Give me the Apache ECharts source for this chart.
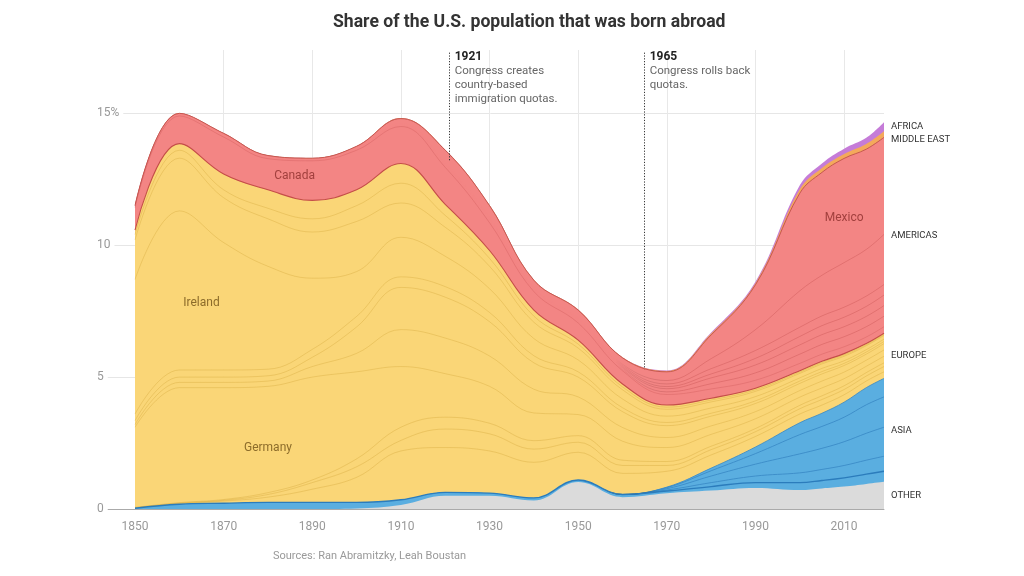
<!DOCTYPE html>
<html>
<head>
<meta charset="utf-8">
<script src="https://cdn.jsdelivr.net/npm/echarts@6/dist/echarts.min.js"></script>
<style>
html,body{margin:0;padding:0;background:#fff;}
#chart{width:1024px;height:576px;}
</style>
</head>
<body>
<div id="chart"></div>
<script>
// ---------- DATA (share of U.S. population, %) ----------
const years = [1850,1860,1870,1880,1890,1900,1910,1920,1930,1940,1950,1960,1970,1980,1990,2000,2005,2010,2015,2019];
const xTicks = [1850,1870,1890,1910,1930,1950,1970,1990,2010];
const yTicks = [0,5,10,15];

// OTHER
const other   = [0,0,0,0,0,0.02,0.15,0.5,0.5,0.32,1.02,0.45,0.6,0.7,0.8,0.72,0.78,0.85,0.95,1.03];
// ASIA
const asia1   = [0.03,0.18,0.22,0.25,0.25,0.23,0.2,0.13,0.1,0.1,0.08,0.1,0.08,0.15,0.2,0.28,0.3,0.33,0.37,0.4];
const asia2   = [0,0,0,0,0,0,0,0,0,0,0,0,0.04,0.15,0.25,0.37,0.42,0.47,0.53,0.57];
const asia3   = [0,0,0,0,0,0,0,0,0,0,0,0,0.05,0.25,0.45,0.72,0.8,0.9,1.02,1.1];
const asia4   = [0,0,0,0,0,0,0,0,0,0,0,0,0.04,0.2,0.4,0.73,0.83,0.93,1.08,1.15];
const asia5   = [0,0,0,0,0,0,0,0,0,0,0,0,0.02,0.1,0.25,0.45,0.5,0.57,0.65,0.7];
// EUROPE
const eur1    = [0.01,0.02,0.08,0.2,0.5,0.95,1.85,1.7,1.6,1.35,1.05,0.8,0.6,0.5,0.4,0.33,0.31,0.28,0.25,0.25];
const eur2    = [0.01,0.02,0.03,0.1,0.25,0.4,0.4,0.7,0.65,0.5,0.38,0.3,0.22,0.2,0.18,0.2,0.21,0.2,0.19,0.2];
const eur3    = [0.01,0.02,0.03,0.07,0.1,0.3,0.5,0.45,0.4,0.32,0.25,0.2,0.15,0.13,0.12,0.13,0.14,0.14,0.13,0.14];
const germany = [3.04,4.36,4.24,4.03,3.9,3.3,2.3,1.65,1.4,1.05,0.8,0.72,0.53,0.45,0.37,0.31,0.3,0.27,0.24,0.25];
const eur5    = [0.1,0.2,0.2,0.2,0.4,0.7,1.4,1.35,1.15,0.9,0.67,0.52,0.38,0.32,0.27,0.25,0.26,0.25,0.23,0.24];
const eur6    = [0.15,0.2,0.2,0.2,0.35,1.0,1.6,1.55,1.3,1.0,0.75,0.6,0.45,0.37,0.31,0.27,0.27,0.25,0.23,0.24];
const eur7    = [0.25,0.27,0.27,0.25,0.3,0.4,0.4,0.4,0.35,0.27,0.2,0.15,0.12,0.11,0.1,0.09,0.09,0.08,0.08,0.08];
const ireland = [5.1,6.03,4.83,3.9,2.7,1.7,1.5,1.15,0.9,0.65,0.45,0.33,0.24,0.2,0.16,0.12,0.12,0.1,0.09,0.09];
const britain = [1.5,2.0,1.7,1.8,1.75,1.9,1.3,1.1,0.85,0.62,0.45,0.35,0.26,0.23,0.2,0.17,0.17,0.17,0.15,0.14];
const eur10   = [0.2,0.3,0.3,0.4,0.5,0.6,0.75,0.45,0.3,0.23,0.15,0.11,0.08,0.07,0.06,0.05,0.05,0.05,0.04,0.04];
const eur11   = [0.17,0.25,0.6,0.7,0.7,0.6,0.75,0.42,0.3,0.23,0.15,0.11,0.08,0.07,0.06,0.05,0.05,0.05,0.04,0.04];
// AMERICAS
const canada  = [0.85,1.05,1.4,1.18,1.5,1.5,1.4,1.4,1.05,0.7,0.65,0.5,0.4,0.35,0.3,0.28,0.27,0.26,0.25,0.25];
const amer1   = [0.01,0.01,0.01,0.01,0.01,0.01,0.02,0.04,0.05,0.04,0.05,0.05,0.1,0.2,0.28,0.35,0.37,0.38,0.39,0.4];
const amer2   = [0.01,0.01,0.01,0.01,0.01,0.02,0.03,0.05,0.06,0.05,0.05,0.06,0.12,0.22,0.3,0.35,0.37,0.38,0.39,0.4];
const amer3   = [0.01,0.01,0.01,0.01,0.01,0.01,0.02,0.03,0.03,0.02,0.03,0.04,0.08,0.15,0.25,0.32,0.34,0.36,0.38,0.4];
const amer4   = [0.01,0.01,0.02,0.02,0.01,0.02,0.03,0.04,0.04,0.03,0.04,0.05,0.1,0.2,0.3,0.35,0.37,0.38,0.39,0.4];
const amer5   = [0.01,0.02,0.03,0.02,0.02,0.02,0.03,0.04,0.04,0.03,0.04,0.05,0.13,0.38,0.79,1.38,1.54,1.69,1.77,1.9];
const mexico  = [0.03,0.04,0.06,0.05,0.04,0.07,0.17,0.45,0.43,0.26,0.28,0.24,0.33,0.9,1.7,3.7,3.9,3.95,3.8,3.68];
// MIDDLE EAST, AFRICA
const middleEast = [0.01,0.01,0.01,0.01,0.01,0.01,0.02,0.02,0.02,0.02,0.02,0.02,0.03,0.05,0.06,0.15,0.17,0.17,0.2,0.23];
const africa     = [0,0,0,0,0,0,0,0,0,0,0,0,0.02,0.04,0.05,0.15,0.17,0.2,0.23,0.34];

// Annotations
const notes = [
  {year:1921, top:17.3, base:13.2, head:'1921', lines:['Congress creates','country-based','immigration quotas.']},
  {year:1965, top:17.3, base:5.3, head:'1965', lines:['Congress rolls back','quotas.']}
];
const countryLabels = [
  {name:'Canada', year:1886, value:12.62, color:'#a2403e'},
  {name:'Ireland', year:1865, value:7.8, color:'#8c6c2a'},
  {name:'Germany', year:1880, value:2.3, color:'#8c6c2a'},
  {name:'Mexico', year:2010, value:11.03, color:'#a2403e'}
];
const sourceText = 'Sources: Ran Abramitzky, Leah Boustan';
const titleText = 'Share of the U.S. population that was born abroad';

// ---------- STYLE ----------
const first = years[0], lastYear = years[years.length-1];
// line colour that stays invisible before `from` and fades in by `to`
function fadeIn(color, from, to){
  const o1 = (from-first)/(lastYear-first), o2 = (to-first)/(lastYear-first);
  return {type:'linear', x:0, y:0, x2:1, y2:0, colorStops:[
    {offset:0, color:'rgba(0,0,0,0)'}, {offset:o1, color:'rgba(0,0,0,0)'}, {offset:o2, color:color}, {offset:1, color:color}]};
}
const C = {
  other:{area:'#dbdbdb', line:'rgba(0,0,0,0)', w:0},
  asia:{area:'#5aaee0', line:fadeIn('#3787c4',1955,1968), w:0.8},
  europe:{area:'#fad677', line:'rgba(196,150,40,0.40)', w:0.7},
  americas:{area:'#f38584', line:fadeIn('rgba(180,60,60,0.40)',1958,1972), w:0.7},
  me:{area:'#f4a95b', line:'rgba(0,0,0,0)', w:0},
  africa:{area:'#c57cd8', line:'rgba(0,0,0,0)', w:0}
};
const layers = [
  ['Other', other, 'other'],
  ['Asia 1', asia1, 'asia', {line:'#2b7cbc', w:1.4}],
  ['Asia 2', asia2, 'asia'],
  ['Asia 3', asia3, 'asia'],
  ['Asia 4', asia4, 'asia'],
  ['Asia 5', asia5, 'asia'],
  ['Europe 1', eur1, 'europe'],
  ['Europe 2', eur2, 'europe'],
  ['Europe 3', eur3, 'europe'],
  ['Germany', germany, 'europe'],
  ['Europe 5', eur5, 'europe'],
  ['Europe 6', eur6, 'europe'],
  ['Europe 7', eur7, 'europe'],
  ['Ireland', ireland, 'europe'],
  ['Britain', britain, 'europe'],
  ['Europe 10', eur10, 'europe'],
  ['Europe 11', eur11, 'europe', {line:'#c44e48', w:1.1}],
  ['Canada', canada, 'americas', {line:'rgba(180,60,60,0.30)'}],
  ['Americas 1', amer1, 'americas'],
  ['Americas 2', amer2, 'americas'],
  ['Americas 3', amer3, 'americas'],
  ['Americas 4', amer4, 'americas'],
  ['Americas 5', amer5, 'americas'],
  ['Mexico', mexico, 'americas', {line:'#c0504c', w:0.9}],
  ['Middle East', middleEast, 'me'],
  ['Africa', africa, 'africa']
];

// cumulative tops (ECharts v6 stacks the x dimension on value/value axes, so stacking is precomputed)
const cum = [];
layers.forEach((l, i) => {
  cum.push(l[1].map((v, k) => v + (i ? cum[i-1][k] : 0)));
});

const last = years.length - 1;
function sumRegion(r){ return layers.filter(l=>l[2]===r).reduce((s,l)=>s+l[1][last],0); }
const regionOrder = ['other','asia','europe','americas','me','africa'];
const regionNames = {other:'OTHER',asia:'ASIA',europe:'EUROPE',americas:'AMERICAS',me:'MIDDLE EAST',africa:'AFRICA'};
const regionOffset = {me:5};
let acc = 0;
const endLabels = regionOrder.map(r=>{
  const s = sumRegion(r); const mid = acc + s/2; acc += s;
  return {coord:[years[last], mid], label:{formatter:regionNames[r], offset:[0, regionOffset[r]||0]}};
});

const FONT = 'Roboto, "Noto Sans", sans-serif';

// draw from the top layer down, each area filled from 0 to its cumulative top
const series = [];
for (let i = layers.length - 1; i >= 0; i--) {
  const l = layers[i];
  const st = Object.assign({}, C[l[2]], l[3] || {});
  series.push({
    name:l[0], type:'line', xAxisIndex:1, yAxisIndex:1,
    smooth:0.4, symbol:'none', showSymbol:false,
    data: years.map((y,k)=>[y, +cum[i][k].toFixed(3)]),
    lineStyle:{color:st.line, width:st.w},
    areaStyle:{color:st.area, opacity:1, origin:'start'},
    silent:true
  });
}

series.push({
  type:'line', xAxisIndex:1, yAxisIndex:1, data:[], symbol:'none', silent:true, z:10,
  markLine:{
    symbol:['none','none'], silent:true,
    lineStyle:{type:[1.2,1.6], color:'#333', width:1},
    label:{show:false},
    data: notes.map(n=>[{coord:[n.year, n.top]},{coord:[n.year, n.base]}])
  },
  markPoint:{
    symbol:'circle', symbolSize:0, silent:true,
    data: notes.map(n=>({coord:[n.year, n.top],
      label:{show:true, position:[5,-3], align:'left', verticalAlign:'top',
        formatter:'{h|'+n.head+'}\n'+n.lines.map(t=>'{t|'+t+'}').join('\n'),
        rich:{h:{fontFamily:FONT, fontWeight:'bold', fontSize:12, color:'#222', lineHeight:14},
              t:{fontFamily:FONT, fontSize:11.5, color:'#666', lineHeight:14}}}}))
      .concat(countryLabels.map(c=>({coord:[c.year,c.value],
        label:{show:true, position:'inside', formatter:c.name, color:c.color, fontSize:12, fontFamily:FONT}})))
      .concat(endLabels.map(e=>({coord:e.coord,
        label:Object.assign({show:true, position:'right', distance:7, color:'#333', fontSize:9.5, fontFamily:FONT}, e.label)})))
  }
});

const chart = echarts.init(document.getElementById('chart'), null, {renderer:'canvas'});
chart.setOption({
  animation:false,
  backgroundColor:'#fff',
  title:[
    {text:titleText, left:328, top:9, textStyle:{fontFamily:FONT, fontWeight:'bold', fontSize:17.6, color:'#333'}},
    {text:sourceText, left:268, top:546, textStyle:{fontFamily:FONT, fontWeight:'normal', fontSize:11, color:'#999'}}
  ],
  grid:[
    {left:97, right:140, top:50, bottom:67},
    {left:135, right:140, top:50, bottom:67}
  ],
  xAxis:[
    {gridIndex:0, type:'value', min:0, max:1, show:false},
    {gridIndex:1, type:'value', min:years[0], max:years[last], interval:20,
     axisLine:{show:true, lineStyle:{color:'#aaa'}}, axisTick:{show:false},
     axisLabel:{color:'#999', fontSize:12, fontFamily:FONT, margin:12, showMaxLabel:false,
       formatter:v=> xTicks.indexOf(v)>=0 ? String(v) : ''},
     splitLine:{show:true, showMinLine:false, showMaxLine:false, lineStyle:{color:'#e8e8e8'}}}
  ],
  yAxis:[
    {gridIndex:0, type:'value', min:0, max:17.4, interval:5,
     axisLine:{show:false}, axisTick:{show:false},
     axisLabel:{inside:true, margin:0, align:'left', color:'#999', fontSize:12, fontFamily:FONT,
       backgroundColor:'#fff', padding:[0,4,0,0], showMaxLabel:false,
       formatter:v=> yTicks.indexOf(v)>=0 ? (v===15 ? '15%' : String(v)) : ''},
     splitLine:{show:true, showMinLine:true, showMaxLine:false, lineStyle:{color:['#aaa','#e6e6e6','#e6e6e6','#e6e6e6']}}},
    {gridIndex:1, type:'value', min:0, max:17.4, interval:5, show:false, splitLine:{show:false}}
  ],
  series: series
});
</script>
</body>
</html>
